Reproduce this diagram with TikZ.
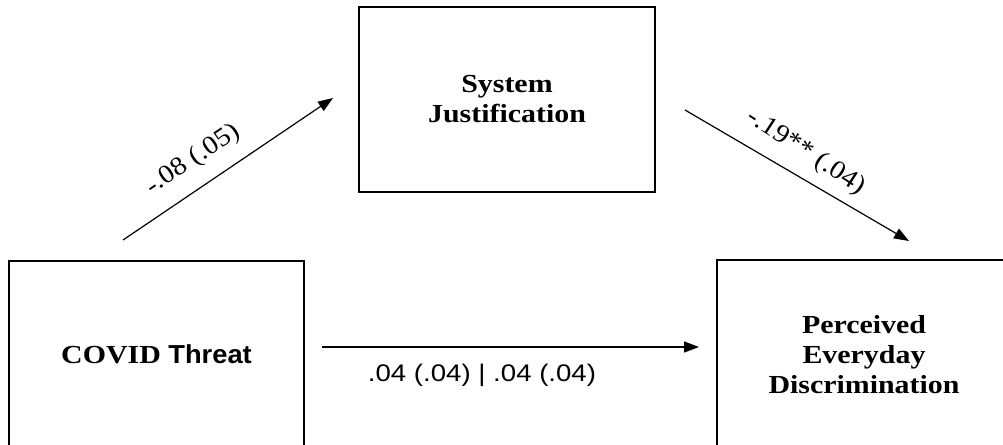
\documentclass[tikz,border=0pt]{standalone}
\usepackage{fontspec}
\setmainfont{Liberation Serif}
\newfontfamily\boxserif[FakeStretch=1.15]{Liberation Serif}
\newfontfamily\boxsans[FakeStretch=1.05]{Liberation Sans}
\newfontfamily\labsans[FakeStretch=1.15]{Liberation Sans}
\newfontfamily\labserif[FakeStretch=1.1]{Liberation Serif}
\usetikzlibrary{arrows.meta}
\begin{document}
\begin{tikzpicture}[x=1pt,y=-1pt,
  box/.style={draw, line width=1.8pt, inner sep=0pt, align=center,
    font=\boxserif\bfseries\fontsize{26}{30}\selectfont},
  arr/.style={line width=1.2pt, -{Triangle[length=15pt,width=11pt]}},
  lab/.style={font=\labserif\fontsize{26}{30}\selectfont, inner sep=0pt}]
\useasboundingbox (0,0) rectangle (1003,444);
\clip (0,0) rectangle (1003,444);
\fill[white] (0,0) rectangle (1003,444);
\node[box, minimum width=296pt, minimum height=185pt] (sj) at (507,99.5) {System\\Justification};
\node[box, minimum width=295pt, minimum height=186pt] (ct) at (156.5,354) {COVID {\boxsans\bfseries Threat}};
\node[box, minimum width=294pt, minimum height=190pt] (pd) at (864,355) {Perceived\\Everyday\\Discrimination};
\coordinate (a1s) at (123,240);
\coordinate (a1e) at (333,98);
\coordinate (a2s) at (685,110);
\coordinate (a2e) at (909,241);
\coordinate (a3s) at (322,347);
\coordinate (a3e) at (699,347);
\draw[arr] (a1s) -- (a1e);
\draw[arr] (a2s) -- (a2e);
\draw[arr] (a3s) -- (a3e);
\node[lab, rotate=34] (l1) at (193,160) {-.08 (.05)};
\node[lab, rotate=-33] (l2) at (806,152) {-.19** (.04)};
\node[font=\labsans\fontsize{24}{28}\selectfont, inner sep=0pt] (l3) at (482,375) {.04 (.04) | .04 (.04)};
\end{tikzpicture}
\end{document}
